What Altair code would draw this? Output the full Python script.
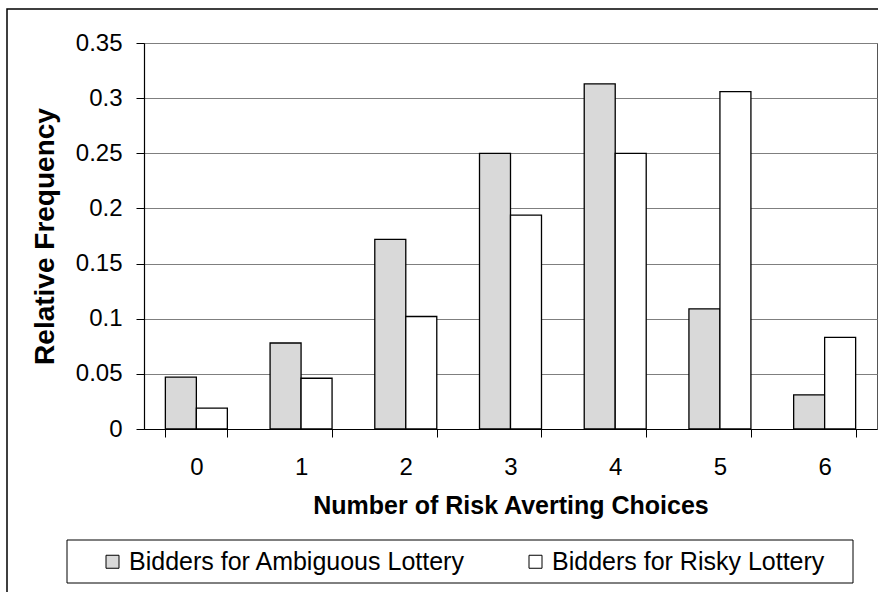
import altair as alt
import pandas as pd

# Relative frequency of risk averting choices by bidder group
choices = ["0", "1", "2", "3", "4", "5", "6"]
ambiguous = [0.047, 0.078, 0.172, 0.250, 0.313, 0.109, 0.031]
risky = [0.019, 0.046, 0.102, 0.194, 0.250, 0.306, 0.083]
series = ["Bidders for Ambiguous Lottery", "Bidders for Risky Lottery"]
y_ticks = [0, 0.05, 0.1, 0.15, 0.2, 0.25, 0.3, 0.35]

rows = []
for c, a, r in zip(choices, ambiguous, risky):
    rows.append({"choice": c, "group": series[0], "freq": a})
    rows.append({"choice": c, "group": series[1], "freq": r})
df = pd.DataFrame(rows)

FONT = "Liberation Sans, Arial, Helvetica, sans-serif"
W, H = 733, 386
one = pd.DataFrame({"k": [0]})

# outer chart-area border
frame = alt.Chart(one).mark_rect(fill=None, stroke="black", strokeWidth=1.5).encode(
    x=alt.value(-137), x2=alt.value(W + 20), y=alt.value(-34), y2=alt.value(H + 200)
)

# box surrounding the legend
legend_box = alt.Chart(one).mark_rect(fill="white", stroke="black", strokeWidth=1).encode(
    x=alt.value(-77), x2=alt.value(709), y=alt.value(497), y2=alt.value(540)
)

bars = alt.Chart(df).mark_bar(stroke="black", strokeWidth=1.3).encode(
    x=alt.X(
        "choice:N",
        sort=choices,
        scale=alt.Scale(paddingInner=0.408, paddingOuter=0.204),
        axis=alt.Axis(
            title="Number of Risk Averting Choices",
            labelAngle=0,
            tickBand="extent",
            tickSize=8,
            labelPadding=37,
            labelBaseline="alphabetic",
            titleBaseline="alphabetic",
            titleY=84,
            titleFontSize=25,
            grid=False,
        ),
    ),
    xOffset=alt.XOffset("group:N", sort=series, scale=alt.Scale(paddingInner=0, paddingOuter=0)),
    y=alt.Y(
        "freq:Q",
        scale=alt.Scale(domain=[0, 0.35], nice=False),
        axis=alt.Axis(
            title="Relative Frequency",
            values=y_ticks,
            format=".2~f",
            tickSize=8,
            labelPadding=14,
            grid=True,
            titleX=-91,
            titleBaseline="alphabetic",
            titleFontSize=28,
        ),
    ),
    fill=alt.Fill(
        "group:N",
        sort=series,
        scale=alt.Scale(domain=series, range=["#d9d9d9", "#ffffff"]),
        legend=alt.Legend(
            title=None,
            orient="none",
            direction="horizontal",
            legendX=-44,
            legendY=506,
            symbolType="square",
            symbolSize=169,
            symbolStrokeColor="black",
            symbolStrokeWidth=1,
            labelFontSize=25,
            labelFont=FONT,
            labelColor="black",
            labelOffset=4,
            columnPadding=57,
            padding=0,
            labelLimit=600,
        ),
    ),
)

chart = (
    alt.layer(frame, legend_box, bars)
    .properties(
        width=W,
        height=H,
        autosize=alt.AutoSizeParams(type="none"),
        padding={"left": 144, "top": 43, "right": 1, "bottom": 163},
        background="white",
    )
    .configure_view(stroke="#555555", strokeWidth=1)
    .configure_axis(
        labelFont=FONT,
        titleFont=FONT,
        labelFontSize=24,
        labelColor="black",
        titleColor="black",
        titleFontWeight="bold",
        domainColor="black",
        domainWidth=1.2,
        tickColor="black",
        tickWidth=1,
        gridColor="#7f7f7f",
        gridWidth=1,
    )
)

chart.save("out.html", embed_options={"renderer": "svg", "actions": False})
